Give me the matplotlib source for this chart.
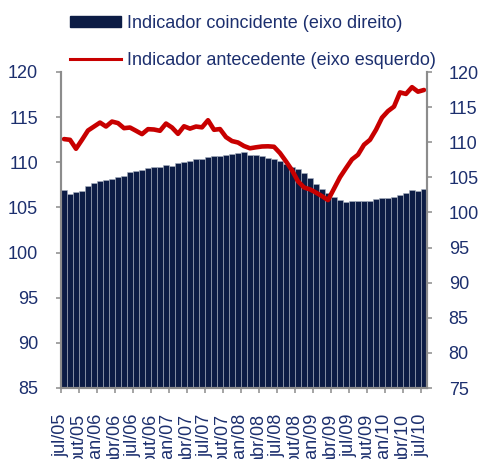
import matplotlib
matplotlib.use('Agg')
import matplotlib.pyplot as plt
import numpy as np
from matplotlib.lines import Line2D
from matplotlib.patches import Patch

# Monthly data jul/05 .. jul/10 (61 months)
coincidente = [103.25, 102.64, 102.92, 103.11, 103.77, 104.24, 104.43, 104.62, 104.81, 104.99,
               105.19, 105.70, 105.90, 106.09, 106.27, 106.44, 106.44, 106.80, 106.61, 107.01,
               107.18, 107.37, 107.55, 107.55, 107.86, 108.03, 108.05, 108.22, 108.39, 108.53,
               108.54, 108.17, 108.15, 107.98, 107.79, 107.61, 107.29, 106.87, 106.51, 106.16,
               105.62, 104.91, 104.10, 103.35, 102.78, 102.25, 101.79, 101.47, 101.64, 101.64,
               101.57, 101.69, 101.97, 102.07, 102.11, 102.18, 102.51, 102.78, 103.25, 103.11,
               103.39]
antecedente = [112.57, 112.49, 111.50, 112.49, 113.52, 113.96, 114.40, 113.96, 114.51, 114.34,
               113.78, 113.85, 113.49, 113.12, 113.67, 113.63, 113.49, 114.29, 113.85, 113.15,
               113.99, 113.73, 113.96, 113.87, 114.66, 113.60, 113.68, 112.79, 112.35, 112.19,
               111.80, 111.55, 111.66, 111.75, 111.77, 111.72, 111.02, 110.10, 109.12, 107.89,
               107.21, 107.00, 106.64, 106.25, 105.81, 107.08, 108.35, 109.35, 110.32, 110.84,
               111.94, 112.49, 113.60, 114.94, 115.67, 116.17, 117.74, 117.57, 118.32, 117.82,
               118.01]
tick_labels = ['jul/05', 'out/05', 'jan/06', 'abr/06', 'jul/06', 'out/06', 'jan/07', 'abr/07',
               'jul/07', 'out/07', 'jan/08', 'abr/08', 'jul/08', 'out/08', 'jan/09', 'abr/09',
               'jul/09', 'out/09', 'jan/10', 'abr/10', 'jul/10']
left_ticks = [85, 90, 95, 100, 105, 110, 115, 120]
right_ticks = [75, 80, 85, 90, 95, 100, 105, 110, 115, 120]
label_coinc = 'Indicador coincidente (eixo direito)'
label_antec = 'Indicador antecedente (eixo esquerdo)'

plt.rcParams['font.family'] = ['Liberation Sans', 'DejaVu Sans']
TXT = '#1c2f6e'
NAVY = '#0c1c45'
RED = '#c80000'
GRAY = '#8c8c8c'
FS = 13

W, H = 480, 459
fig = plt.figure(figsize=(W / 100, H / 100), dpi=100)
L, R, T, B = 61, 427, 72, 388
ax = fig.add_axes([L / W, 1 - B / H, (R - L) / W, (B - T) / H])

x = np.arange(len(coincidente))
ax.bar(x, coincidente, width=0.85, color=NAVY, edgecolor='#a9b1c0', linewidth=0.4)
ax.set_xlim(-0.5, len(coincidente) - 0.5)
ax.set_ylim(75, 120)
ax.set_xticks(np.arange(0, len(coincidente), 3) - 0.5)
ax.set_xticklabels(tick_labels, rotation=90)

ax2 = ax.twinx()
ax2.plot(x, antecedente, color=RED, lw=3.3, solid_joinstyle='round', solid_capstyle='round')
ax2.set_ylim(85, 120)

# bars -> right axis, line -> left axis
ax.yaxis.tick_right()
ax.yaxis.set_label_position('right')
ax.set_yticks(right_ticks)
ax.set_yticklabels([str(t) for t in right_ticks])
ax2.yaxis.tick_left()
ax2.yaxis.set_label_position('left')
ax2.set_yticks(left_ticks)
ax2.set_yticklabels([str(t) for t in left_ticks])

for a in (ax, ax2):
    a.spines['top'].set_visible(False)
    for s in ('left', 'right', 'bottom'):
        a.spines[s].set_color(GRAY)
        a.spines[s].set_linewidth(1.5)
    a.patch.set_visible(False)

ax.tick_params(axis='y', which='both', direction='out', length=3.6, width=1.1, color=GRAY,
               labelsize=FS, labelcolor=TXT, pad=12)
ax.tick_params(axis='x', direction='out', length=3.6, width=1.1, color=GRAY,
               labelsize=FS, labelcolor=TXT, pad=15)
ax2.tick_params(axis='y', which='both', direction='out', length=3.6, width=1.1, color=GRAY,
                labelsize=FS, labelcolor=TXT, pad=13)

handles = [Patch(facecolor=NAVY, edgecolor=NAVY), Line2D([0], [0], color=RED, lw=2.2)]
leg = fig.legend(handles, [label_coinc, label_antec], loc='upper left',
                 bbox_to_anchor=(70 / W, 1 - 15 / H), frameon=False, fontsize=FS,
                 handlelength=2.8, handleheight=0.55, handletextpad=0.35,
                 labelspacing=1.1, borderpad=0, borderaxespad=0)
for t in leg.get_texts():
    t.set_color(TXT)

fig.savefig('out.png', dpi=100)
